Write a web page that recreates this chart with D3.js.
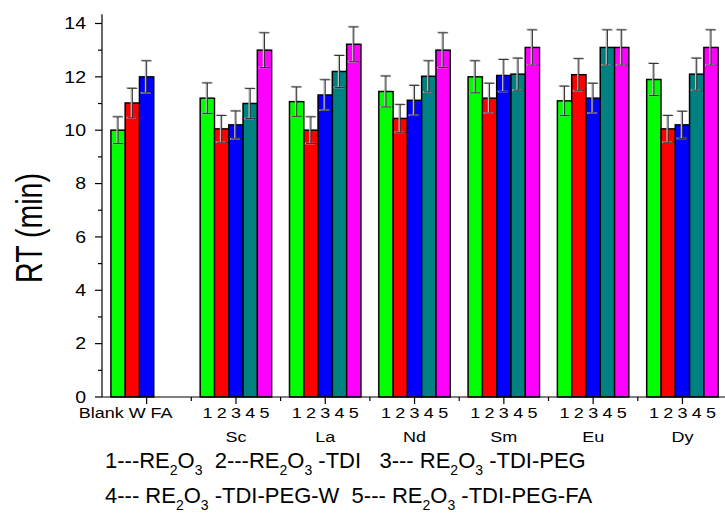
<!DOCTYPE html>
<html><head><meta charset="utf-8">
<script src="https://cdn.jsdelivr.net/npm/d3@7"></script>
<style>
html,body{margin:0;padding:0;background:#fff;}
svg{display:block;font-family:"Liberation Sans",Arial,sans-serif;}
</style></head>
<body><svg id="c" width="725" height="513"></svg>
<script>
// ---- data ----
const categories = ["Blank", "Sc", "La", "Nd", "Sm", "Eu", "Dy"];
const groupLabels = ["", "Sc", "La", "Nd", "Sm", "Eu", "Dy"];
const firstGroupLabel = "Blank W FA";
const seriesLabels = ["1", "2", "3", "4", "5"];
const seriesColors = ["#00ff00", "#ff0000", "#0000ff", "#008080", "#ff00ff"];
const s1 = [10.0, 11.2, 11.07, 11.45, 12.0, 11.1, 11.9];
const s2 = [11.02, 10.05, 10.0, 10.44, 11.2, 12.08, 10.05];
const s3 = [12.0, 10.2, 11.32, 11.12, 12.05, 11.2, 10.2];
const s4 = [null, 11.0, 12.2, 12.02, 12.1, 13.1, 12.1];
const s5 = [null, 13.0, 13.22, 13.0, 13.1, 13.1, 13.1];
const e1 = [0.5, 0.57, 0.55, 0.58, 0.6, 0.55, 0.6];
const e2 = [0.55, 0.5, 0.5, 0.52, 0.56, 0.6, 0.5];
const e3 = [0.6, 0.52, 0.57, 0.56, 0.6, 0.56, 0.51];
const e4 = [null, 0.56, 0.6, 0.58, 0.6, 0.66, 0.6];
const e5 = [null, 0.65, 0.65, 0.65, 0.66, 0.66, 0.66];
const yTicks = [0, 2, 4, 6, 8, 10, 12, 14];
const yLabel = "RT (min)";

const series = [s1, s2, s3, s4, s5];
const errors = [e1, e2, e3, e4, e5];

// ---- layout ----
const svg = d3.select("#c");
const x0 = 102, yBase = 397, yTop = 23.5, step = 89.3;
const x = d3.scaleBand().domain(categories).range([x0, x0 + step * categories.length])
  .paddingInner(0.2).paddingOuter(0.1);
const xs = d3.scaleBand().domain(d3.range(5)).range([0, x.bandwidth()]);
const y = d3.scaleLinear().domain([0, 14]).range([yBase, yTop]);
const stretch = 1.2;

const flat = [];
categories.forEach((c, i) => series.forEach((s, j) => {
  if (s[i] != null) flat.push({cat: c, i, j, v: s[i], e: errors[j][i]});
}));

// bars shadow
svg.append("g").selectAll("rect").data(flat).join("rect")
  .attr("x", d => x(d.cat) + xs(d.j) - 1)
  .attr("y", d => y(d.v) - 1)
  .attr("width", xs.bandwidth())
  .attr("height", d => y(0) - y(d.v))
  .attr("fill", "#999").attr("opacity", 0.6);
// bars
svg.append("g").selectAll("rect").data(flat).join("rect")
  .attr("x", d => x(d.cat) + xs(d.j))
  .attr("y", d => y(d.v))
  .attr("width", xs.bandwidth())
  .attr("height", d => y(0) - y(d.v))
  .attr("fill", d => seriesColors[d.j])
  .attr("stroke", "#000").attr("stroke-width", 1.4);

// error bars
const eb = svg.append("g");
flat.forEach(d => {
  const cx = x(d.cat) + xs(d.j) + xs.bandwidth() / 2;
  [["#bbb", -1, 1.6], ["#333", 0, 1]].forEach(([col, off, w]) => {
    const g = eb.append("g").attr("stroke", col).attr("stroke-width", w);
    g.append("line").attr("x1", cx + off).attr("x2", cx + off).attr("y1", y(d.v - d.e)).attr("y2", y(d.v + d.e));
    g.append("line").attr("x1", cx - 5 + off).attr("x2", cx + 5 + off).attr("y1", y(d.v + d.e) + (off ? -0.5 : 0)).attr("y2", y(d.v + d.e) + (off ? -0.5 : 0));
    g.append("line").attr("x1", cx - 5 + off).attr("x2", cx + 5 + off).attr("y1", y(d.v - d.e)).attr("y2", y(d.v - d.e));
  });
});

// y axis
const ya = svg.append("g").attr("stroke", "#000").attr("stroke-width", 1.2);
ya.append("line").attr("x1", x0).attr("x2", x0).attr("y1", yBase).attr("y2", y(14.35));
d3.range(0, 15, 1).forEach(v => {
  const len = v % 2 === 0 ? 7 : 4;
  ya.append("line").attr("x1", x0 - len).attr("x2", x0).attr("y1", y(v)).attr("y2", y(v));
});
svg.append("g").selectAll("text").data(yTicks).join("text")
  .attr("transform", d => `translate(86,${y(d) + 5.8}) scale(1.22,1)`)
  .attr("text-anchor", "end").attr("font-size", 16).text(d => d);
svg.append("text")
  .attr("transform", `translate(42,228) scale(1.3,1) rotate(-90)`)
  .attr("text-anchor", "middle").attr("font-size", 28.5).text(yLabel);

// x axis
const xa = svg.append("g").attr("stroke", "#000").attr("stroke-width", 1.2);
xa.append("line").attr("x1", x0).attr("x2", 725).attr("y1", yBase).attr("y2", yBase);
categories.forEach((c, i) => {
  const cx = x(c) + x.bandwidth() / 2;
  xa.append("line").attr("x1", cx).attr("x2", cx).attr("y1", yBase).attr("y2", yBase + 7);
  const mx = x(c) + x.bandwidth() + (x.step() - x.bandwidth()) / 2;
  if (mx < 725) xa.append("line").attr("x1", mx).attr("x2", mx).attr("y1", yBase).attr("y2", yBase + 4);
});
// bar labels
const tl = svg.append("g").attr("font-size", 15);
categories.forEach((c, i) => {
  if (i === 0) {
    tl.append("text").attr("text-anchor", "middle")
      .attr("transform", `translate(${x(c) + x.bandwidth() / 2 - 21},418) scale(${stretch},1)`)
      .text(firstGroupLabel);
  } else {
    seriesLabels.forEach((s, j) => {
      tl.append("text").attr("text-anchor", "middle")
        .attr("transform", `translate(${x(c) + xs(j) + xs.bandwidth() / 2},418) scale(${stretch},1)`)
        .text(s);
    });
    tl.append("text").attr("text-anchor", "middle")
      .attr("transform", `translate(${x(c) + x.bandwidth() / 2},442) scale(${stretch},1)`)
      .text(groupLabels[i]);
  }
});

// legend (with subscripts)
const legendLines = [
  [["1---RE"], ["2", 1], ["O"], ["3", 1], ["  2---RE"], ["2", 1], ["O"], ["3", 1], [" -TDI   3--- RE"], ["2", 1], ["O"], ["3", 1], [" -TDI-PEG"]],
  [["4--- RE"], ["2", 1], ["O"], ["3", 1], [" -TDI-PEG-W  5--- RE"], ["2", 1], ["O"], ["3", 1], [" -TDI-PEG-FA"]]
];
const legendY = [468, 503];
legendLines.forEach((parts, k) => {
  const t = svg.append("text").attr("x", 105).attr("y", legendY[k]).attr("font-size", 22)
    .style("white-space", "pre").attr("xml:space", "preserve");
  let sub = false;
  parts.forEach(([txt, isSub]) => {
    const ts = t.append("tspan").text(txt);
    if (isSub && !sub) { ts.attr("dy", 7).attr("font-size", 14); sub = true; }
    else if (isSub && sub) { ts.attr("font-size", 14); }
    else if (!isSub && sub) { ts.attr("dy", -7); sub = false; }
  });
});
</script></body></html>
